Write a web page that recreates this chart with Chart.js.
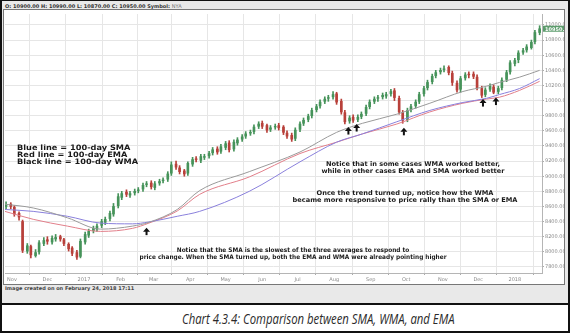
<!DOCTYPE html>
<html>
<head>
<meta charset="utf-8">
<script src="https://cdn.jsdelivr.net/npm/chart.js@4.4.1/dist/chart.umd.min.js"></script>
<style>
  html, body { margin: 0; padding: 0; background: #fff; }
  #sheet { position: relative; width: 570px; height: 333px; box-sizing: border-box; border: 2px solid #111; border-top-width: 1px; background: #fff; overflow: hidden; }
  #top { position: absolute; left: 0; top: 0; width: 566px; height: 302px; background: #e9e9e9; border-bottom: 2px solid #111; }
  #hdr { position: absolute; left: 3px; top: 2px; font: bold 5px "DejaVu Sans"; color: #333; white-space: nowrap; }
  #hdr span { font-weight: normal; color: #777; }
  #panel { position: absolute; left: 1px; top: 8px; width: 560px; height: 274px; border: 1px solid #777; background: #fff; }
  #stamp { position: absolute; left: 3px; top: 284px; font: bold 5px "DejaVu Sans"; color: #444; white-space: nowrap; }
  #caption { position: absolute; left: 180px; top: 308px; font: italic 14px "Open Sans"; color: #2a2a2a; white-space: nowrap;
    transform: scaleX(0.81); transform-origin: 0 0; }
</style>
</head>
<body>
<div id="sheet">
  <div id="top">
    <div id="hdr"></div>
    <div id="panel"><canvas id="myChart" width="560" height="274"></canvas></div>
    <div id="stamp">Image created on on February 24, 2018 17:11</div>
  </div>
  <div id="caption">Chart 4.3.4: Comparison between SMA, WMA, and EMA</div>
</div>
<script>
// twice-weekly candles, first one on Thu 27 Oct 2016
var opens = [8600, 8630, 8590, 8510, 8400, 8010, 8070, 7950, 8000, 8110,
  8160, 8130, 8170, 8200, 8160, 8100, 8050, 7990, 7940, 8130,
  8220, 8280, 8300, 8350, 8390, 8440, 8500, 8610, 8720, 8790,
  8750, 8780, 8810, 8830, 8890, 8910, 8850, 8910, 8940, 8960,
  9040, 9160, 9110, 9070, 9040, 9160, 9230, 9210, 9250, 9270,
  9310, 9360, 9330, 9380, 9440, 9360, 9440, 9490, 9530, 9570,
  9590, 9660, 9700, 9670, 9620, 9650, 9670, 9650, 9570, 9540,
  9500, 9620, 9700, 9750, 9800, 9880, 9930, 9990, 10030, 10050,
  10090, 9990, 9840, 9730, 9780, 9750, 9790, 9830, 9920, 9990,
  10030, 10050, 10060, 10090, 10130, 10030, 9840, 9750, 9880, 9930,
  9990, 10090, 10170, 10250, 10330, 10380, 10410, 10440, 10360, 10230,
  10150, 10300, 10350, 10350, 10310, 10160, 10080, 10150, 10180, 10120,
  10170, 10280, 10380, 10490, 10540, 10640, 10670, 10700, 10780, 10900];
var highs = [8660, 8650, 8610, 8530, 8420, 8110, 8090, 8030, 8150, 8190,
  8200, 8210, 8230, 8220, 8180, 8120, 8070, 8020, 8170, 8260,
  8300, 8340, 8370, 8430, 8460, 8540, 8640, 8770, 8800, 8820,
  8800, 8830, 8850, 8910, 8930, 8940, 8930, 8960, 8980, 9060,
  9190, 9200, 9140, 9090, 9190, 9250, 9260, 9290, 9290, 9330,
  9380, 9390, 9420, 9460, 9470, 9480, 9510, 9550, 9590, 9610,
  9680, 9720, 9730, 9690, 9670, 9690, 9700, 9670, 9600, 9570,
  9640, 9720, 9770, 9820, 9900, 9950, 10010, 10050, 10070, 10120,
  10110, 10020, 9870, 9800, 9810, 9810, 9850, 9940, 10010, 10050,
  10070, 10100, 10110, 10150, 10160, 10060, 9870, 9900, 9950, 10010,
  10110, 10190, 10270, 10350, 10400, 10430, 10460, 10460, 10390, 10260,
  10320, 10370, 10380, 10380, 10340, 10190, 10170, 10220, 10210, 10190,
  10300, 10400, 10530, 10560, 10660, 10690, 10740, 10800, 10930, 10990];
var lows = [8570, 8570, 8470, 8420, 7990, 7980, 7920, 7930, 7970, 8080,
  8100, 8100, 8140, 8140, 8080, 8010, 7950, 7900, 7920, 8100,
  8190, 8250, 8270, 8320, 8360, 8410, 8470, 8580, 8690, 8730,
  8720, 8750, 8780, 8800, 8860, 8830, 8820, 8880, 8910, 8930,
  9010, 9090, 9030, 9000, 9010, 9130, 9190, 9180, 9220, 9240,
  9280, 9290, 9300, 9350, 9320, 9330, 9410, 9460, 9500, 9540,
  9560, 9630, 9630, 9580, 9590, 9620, 9610, 9550, 9500, 9460,
  9470, 9590, 9670, 9720, 9770, 9850, 9900, 9960, 9990, 10020,
  9950, 9820, 9690, 9700, 9710, 9720, 9760, 9800, 9890, 9960,
  9990, 10020, 10030, 10060, 10000, 9820, 9700, 9720, 9850, 9900,
  9960, 10060, 10140, 10220, 10300, 10350, 10380, 10340, 10200, 10110,
  10110, 10270, 10300, 10290, 10140, 10040, 10050, 10120, 10090, 10090,
  10140, 10250, 10350, 10460, 10500, 10610, 10640, 10680, 10750, 10870];
var closes = [8620, 8600, 8500, 8460, 8020, 8080, 7960, 7990, 8120, 8150,
  8140, 8180, 8190, 8170, 8110, 8040, 7980, 7930, 8140, 8230,
  8270, 8310, 8340, 8400, 8430, 8510, 8600, 8730, 8770, 8760,
  8770, 8800, 8820, 8880, 8900, 8860, 8900, 8930, 8950, 9030,
  9150, 9120, 9060, 9030, 9170, 9220, 9220, 9260, 9260, 9300,
  9350, 9320, 9390, 9430, 9350, 9450, 9480, 9520, 9560, 9580,
  9650, 9690, 9660, 9610, 9640, 9660, 9640, 9580, 9530, 9490,
  9610, 9690, 9740, 9790, 9870, 9920, 9980, 10020, 10040, 10080,
  9980, 9850, 9720, 9770, 9740, 9780, 9820, 9910, 9980, 10020,
  10040, 10070, 10080, 10120, 10040, 9850, 9740, 9870, 9920, 9980,
  10080, 10160, 10240, 10320, 10370, 10400, 10420, 10370, 10240, 10140,
  10290, 10340, 10340, 10320, 10170, 10070, 10140, 10190, 10110, 10160,
  10270, 10370, 10500, 10530, 10630, 10660, 10710, 10770, 10900, 10950];

// 100-day moving averages, sampled along the year
var maDates = ['2016-10-26', '2016-11-19', '2016-12-18', '2017-01-15', '2017-02-11', '2017-02-25',
  '2017-03-21', '2017-04-09', '2017-05-21', '2017-07-03', '2017-08-03', '2017-08-25', '2017-09-23',
  '2017-10-21', '2017-11-18', '2017-12-08', '2017-12-19', '2018-01-05', '2018-01-22'];
var smaValues = [8560, 8535, 8470, 8380, 8370, 8395, 8470, 8535, 8800, 9190, 9450, 9560, 9720,
  9870, 9975, 10030, 10080, 10160, 10290];
var emaValues = [8535, 8430, 8340, 8270, 8310, 8380, 8540, 8760, 8990, 9300, 9450, 9560, 9690,
  9850, 9965, 10020, 10045, 10135, 10255];
var wmaValues = [8630, 8580, 8450, 8300, 8340, 8390, 8560, 8810, 9060, 9320, 9580, 9700, 9820,
  9965, 10120, 10190, 10240, 10310, 10400];

var monthStarts = ['2016-11-01', '2016-12-01', '2017-01-01', '2017-02-01', '2017-03-01', '2017-04-01',
  '2017-05-01', '2017-06-01', '2017-07-01', '2017-08-01', '2017-09-01', '2017-10-01', '2017-11-01',
  '2017-12-01', '2018-01-01'];
var monthLabels = ['Nov', 'Dec', '2017', 'Feb', 'Mar', 'Apr', 'May', 'Jun', 'Jul', 'Aug', 'Sep', 'Oct', 'Nov', 'Dec', '2018'];
var priceTicks = [7800, 8000, 8200, 8400, 8600, 8800, 9000, 9200, 9400, 9600, 9800, 10000, 10200, 10400, 10600, 10800, 11000];

// up-arrows under the swing lows
var arrowDates = ['2017-02-23', '2017-08-13', '2017-08-20', '2017-09-29', '2017-12-05', '2017-12-16'];
var arrowValues = [8320, 9650, 9690, 9640, 10020, 10040];

// text blocks: font size, then stretched to the given width
var notes = [
  { lines: ['Blue line = 100-day SMA', 'Red line = 100-day EMA', 'Black line = 100-day WMA'], x: 13, y: 138, step: 7, size: 7.4, w: 121, align: 'left' },
  { lines: ['Notice that in some cases WMA worked better,', 'while in other cases EMA and SMA worked better'], x: 409, y: 154, step: 7, size: 6.5, w: 183, align: 'center' },
  { lines: ['Once the trend turned up, notice how the WMA', 'became more responsive to price rally than the SMA or EMA'], x: 401, y: 183, step: 7, size: 6.5, w: 225, align: 'center' },
  { lines: ['Notice that the SMA is the slowest of the three averages to respond to', 'price change. When the SMA turned up, both the EMA and WMA were already pointing higher'], x: 289, y: 240, step: 7, size: 6.3, w: 307, align: 'center' }
];

var DAY = 86400000;
function dayNum(s) { return Date.parse(s + 'T00:00:00Z') / DAY; }

var candleDays = [];
var d = dayNum('2016-10-27');
for (var i = 0; i < closes.length; i++) {
  candleDays.push(d);
  d += (i % 2 === 0) ? 4 : 3;
}
var last = closes.length - 1;

document.getElementById('hdr').innerHTML =
  'O: ' + opens[last].toFixed(2) + ' H: ' + highs[last].toFixed(2) + ' L: ' + lows[last].toFixed(2) +
  ' C: ' + closes[last].toFixed(2) + ' Symbol: <span>NYA</span>';

var UP = '#46935a', DOWN = '#b8403a';
var candleColors = closes.map(function (c, i) { return c >= opens[i] ? UP : DOWN; });

function maLine(values) {
  return maDates.map(function (s, i) { return { x: dayNum(s), y: values[i] }; });
}

var overlay = {
  id: 'overlay',
  afterDatasetsDraw: function (chart) {
    var c = chart.ctx, xs = chart.scales.x, ys = chart.scales.y, area = chart.chartArea;
    c.save();
    // arrows
    c.fillStyle = '#111';
    for (var i = 0; i < arrowDates.length; i++) {
      var px = xs.getPixelForValue(dayNum(arrowDates[i])), py = ys.getPixelForValue(arrowValues[i]);
      c.beginPath();
      c.moveTo(px, py); c.lineTo(px - 3.5, py + 4); c.lineTo(px + 3.5, py + 4); c.closePath();
      c.fill();
      c.fillRect(px - 1, py + 3.5, 2, 4);
    }
    // notes
    c.fillStyle = '#1a1a1a';
    c.textBaseline = 'middle';
    notes.forEach(function (n) {
      c.font = 'bold ' + n.size + 'px "DejaVu Sans"';
      var widest = Math.max.apply(null, n.lines.map(function (t) { return c.measureText(t).width; }));
      var k = n.w / widest;
      c.textAlign = n.align;
      n.lines.forEach(function (t, j) {
        c.save();
        c.translate(n.x, n.y + j * n.step);
        c.scale(k, 1);
        c.fillText(t, 0, 0);
        c.restore();
      });
    });
    // last price tag
    var ty = ys.getPixelForValue(closes[last]);
    c.fillStyle = '#5c9c6c';
    c.fillRect(area.right + 1, ty - 3, chart.width - area.right - 1, 6);
    c.fillStyle = '#fff';
    c.font = 'bold 5px "DejaVu Sans"';
    c.textAlign = 'left';
    c.fillText(closes[last].toFixed(2), area.right + 3, ty + 0.5);
    c.restore();
  }
};

var ctx = document.getElementById('myChart').getContext('2d');
var chart = new Chart(ctx, {
  type: 'bar',
  data: {
    datasets: [
      { type: 'line', label: 'WMA', data: maLine(wmaValues), borderColor: '#9a9a9a', borderWidth: 1, pointRadius: 0, cubicInterpolationMode: 'monotone', order: 0 },
      { type: 'line', label: 'SMA', data: maLine(smaValues), borderColor: '#8a80dc', borderWidth: 1, pointRadius: 0, cubicInterpolationMode: 'monotone', order: 0 },
      { type: 'line', label: 'EMA', data: maLine(emaValues), borderColor: '#e27f8a', borderWidth: 1, pointRadius: 0, cubicInterpolationMode: 'monotone', order: 0 },
      { label: 'body', data: candleDays.map(function (x, i) { return { x: x, y: [opens[i], closes[i]] }; }),
        backgroundColor: candleColors, barThickness: 2, grouped: false, order: 1 },
      { label: 'wick', data: candleDays.map(function (x, i) { return { x: x, y: [lows[i], highs[i]] }; }),
        backgroundColor: candleColors, barThickness: 1, grouped: false, order: 2 }
    ]
  },
  options: {
    responsive: false,
    animation: false,
    layout: { padding: { left: 1, top: 1, right: 0, bottom: 0 } },
    plugins: { legend: { display: false }, tooltip: { enabled: false } },
    scales: {
      x: {
        type: 'linear',
        offset: false,
        min: dayNum('2016-10-26') + 0.1,
        max: dayNum('2018-01-24'),
        afterBuildTicks: function (s) { s.ticks = monthStarts.map(function (m) { return { value: dayNum(m) }; }); },
        afterFit: function (s) { s.height = 11; },
        ticks: { autoSkip: false, maxRotation: 0, padding: 2, color: '#8a8a8a', font: { size: 5, family: 'DejaVu Sans' },
          callback: function (v, i) { return monthLabels[i]; } },
        grid: { color: '#e6e6e6', tickColor: '#aaa', tickLength: 2 },
        border: { color: '#b5b5b5' }
      },
      y: {
        position: 'right',
        min: 7720,
        max: 11145,
        afterBuildTicks: function (s) { s.ticks = priceTicks.map(function (v) { return { value: v }; }); },
        afterFit: function (s) { s.width = 22; },
        ticks: { autoSkip: false, padding: 1, color: '#8a8a8a', font: { size: 5, family: 'DejaVu Sans' },
          callback: function (v) { return v.toFixed(2); } },
        grid: { color: '#e6e6e6', tickColor: '#aaa', tickLength: 2 },
        border: { color: '#b5b5b5' }
      }
    }
  },
  plugins: [overlay]
});
</script>
</body>
</html>
